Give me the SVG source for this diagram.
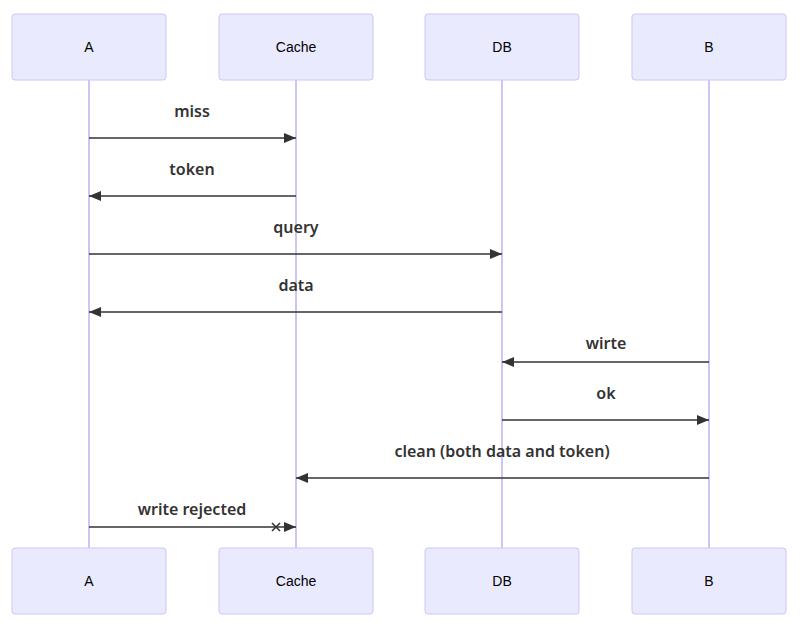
<svg xmlns="http://www.w3.org/2000/svg" width="800" height="627" viewBox="0 0 800 627">
<style>
.box{fill:#eaeaff;stroke:#cdc6f3;stroke-width:1}
.life{stroke:#cdc6f3;stroke-width:2}
.actor{font-family:"Liberation Sans",Arial,sans-serif;font-size:14px;fill:#000;text-anchor:middle}
.msg{stroke:#333;stroke-width:1.6;fill:none}
.lbl{font-family:"Noto Sans","Open Sans",sans-serif;font-size:16px;font-weight:600;fill:#333;text-anchor:middle}
</style>
<defs>
<marker id="ah" viewBox="0 0 12 10" refX="12" refY="5" markerWidth="12" markerHeight="10" markerUnits="userSpaceOnUse" orient="auto">
<path d="M0,0 L12,5 L0,10 z" fill="#333"/>
</marker>
</defs>
<rect width="800" height="627" fill="#fff"/>
<g id="lifelines">
<line class="life" x1="89" y1="80" x2="89" y2="548"/>
<line class="life" x1="296" y1="80" x2="296" y2="548"/>
<line class="life" x1="502" y1="80" x2="502" y2="548"/>
<line class="life" x1="709" y1="80" x2="709" y2="548"/>
</g>
<g id="A-top"><rect class="box" x="12" y="14" width="154" height="66" rx="3"/><text class="actor" x="89" y="52">A</text></g>
<g id="Cache-top"><rect class="box" x="219" y="14" width="154" height="66" rx="3"/><text class="actor" x="296" y="52">Cache</text></g>
<g id="DB-top"><rect class="box" x="425" y="14" width="154" height="66" rx="3"/><text class="actor" x="502" y="52">DB</text></g>
<g id="B-top"><rect class="box" x="632" y="14" width="154" height="66" rx="3"/><text class="actor" x="709" y="52">B</text></g>
<g id="A-bottom"><rect class="box" x="12" y="548" width="154" height="66" rx="3"/><text class="actor" x="89" y="586">A</text></g>
<g id="Cache-bottom"><rect class="box" x="219" y="548" width="154" height="66" rx="3"/><text class="actor" x="296" y="586">Cache</text></g>
<g id="DB-bottom"><rect class="box" x="425" y="548" width="154" height="66" rx="3"/><text class="actor" x="502" y="586">DB</text></g>
<g id="B-bottom"><rect class="box" x="632" y="548" width="154" height="66" rx="3"/><text class="actor" x="709" y="586">B</text></g>
<g id="connectors">
<line class="msg" x1="89" y1="138" x2="296" y2="138" marker-end="url(#ah)"/>
<text class="lbl" x="192" y="117">miss</text>
<line class="msg" x1="296" y1="196" x2="89" y2="196" marker-end="url(#ah)"/>
<text class="lbl" x="192" y="175">token</text>
<line class="msg" x1="89" y1="254" x2="502" y2="254" marker-end="url(#ah)"/>
<text class="lbl" x="296" y="233">query</text>
<line class="msg" x1="502" y1="312" x2="89" y2="312" marker-end="url(#ah)"/>
<text class="lbl" x="296" y="291">data</text>
<line class="msg" x1="709" y1="362" x2="502" y2="362" marker-end="url(#ah)"/>
<text class="lbl" x="606" y="349">wirte</text>
<line class="msg" x1="502" y1="420" x2="709" y2="420" marker-end="url(#ah)"/>
<text class="lbl" x="606" y="399">ok</text>
<line class="msg" x1="709" y1="478" x2="296" y2="478" marker-end="url(#ah)"/>
<text class="lbl" x="502" y="457">clean (both data and token)</text>
<line class="msg" x1="89" y1="527" x2="296" y2="527" marker-end="url(#ah)"/>
<path class="msg" d="M272,523 L280,531 M280,523 L272,531" stroke-width="1.4"/>
<text class="lbl" x="192" y="515">write rejected</text>
</g>
</svg>
